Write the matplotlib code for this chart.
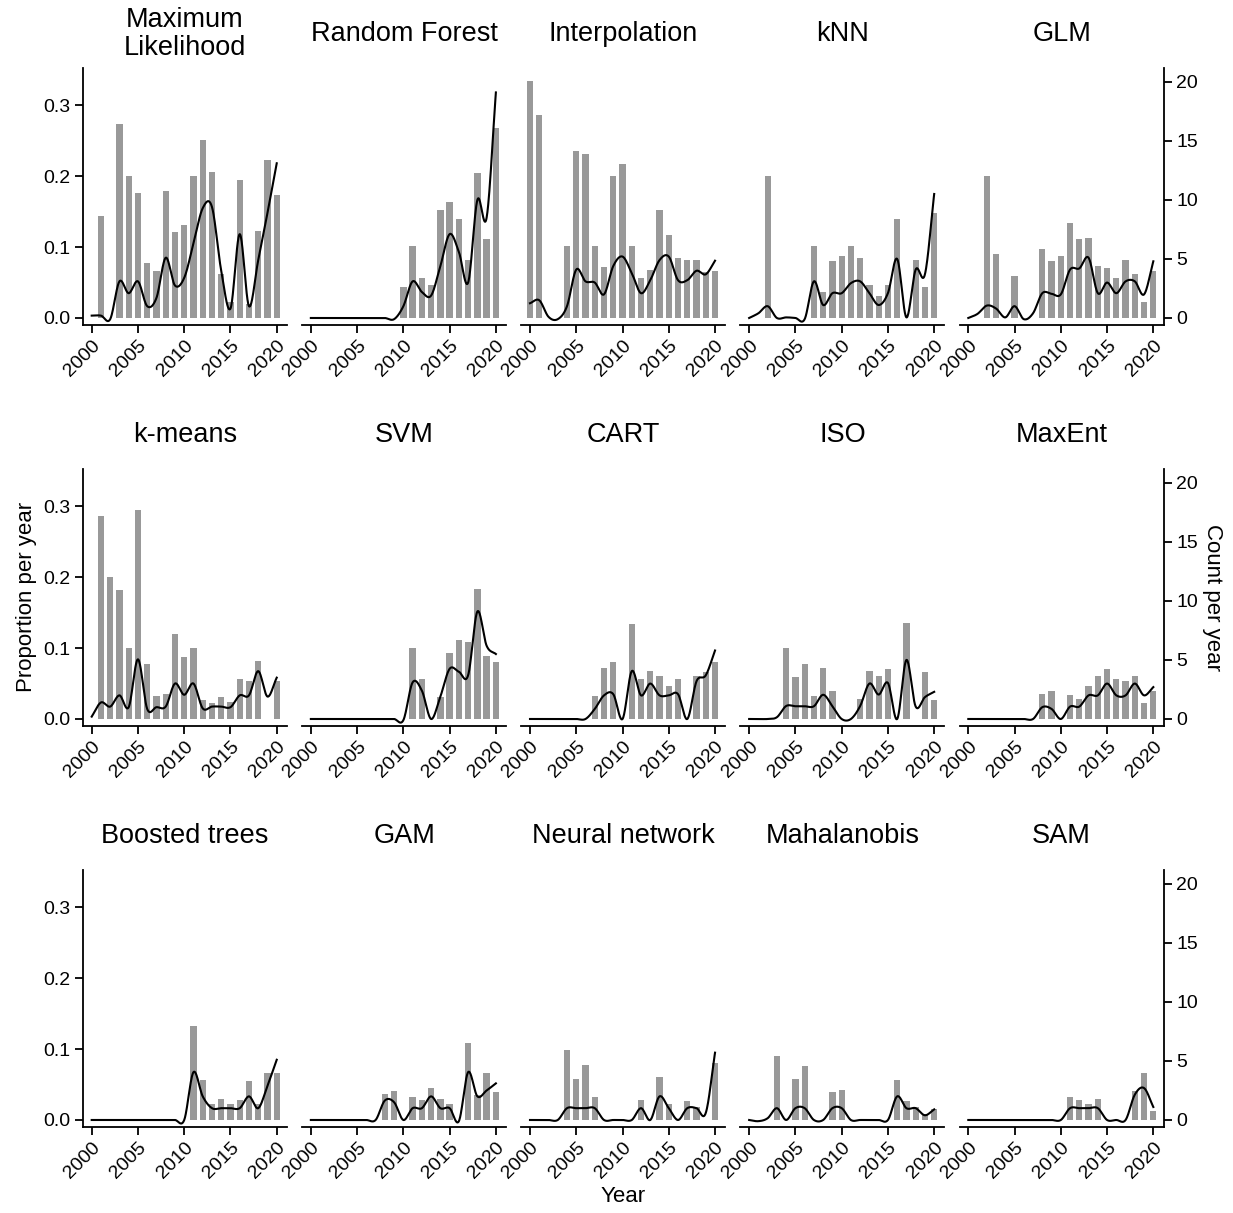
import numpy as np
import matplotlib
matplotlib.use("Agg")
import matplotlib.pyplot as plt
import matplotlib.transforms as mtransforms

plt.rcParams['font.family'] = ['Liberation Sans', 'DejaVu Sans']

years = list(range(2000, 2021))

methods = ["Maximum\nLikelihood", "Random Forest", "Interpolation", "kNN", "GLM",
           "k-means", "SVM", "CART", "ISO", "MaxEnt",
           "Boosted trees", "GAM", "Neural network", "Mahalanobis", "SAM"]

# proportion of papers per year (bars, left axis)
prop_ml = [0, 0.144, 0, 0.274, 0.200, 0.177, 0.077, 0.067, 0.179, 0.121, 0.131,
           0.201, 0.251, 0.206, 0.062, 0.022, 0.195, 0.020, 0.123, 0.223, 0.174]
prop_rf = [0, 0, 0, 0, 0, 0, 0, 0, 0, 0, 0.044,
           0.101, 0.056, 0.046, 0.152, 0.164, 0.140, 0.082, 0.205, 0.112, 0.268]
prop_interp = [0.335, 0.286, 0, 0, 0.101, 0.236, 0.231, 0.101, 0.072, 0.200, 0.218,
               0.101, 0.056, 0.068, 0.152, 0.117, 0.084, 0.082, 0.082, 0.065, 0.067]
prop_knn = [0, 0, 0.200, 0, 0, 0, 0, 0.101, 0.037, 0.081, 0.088,
            0.101, 0.084, 0.046, 0.031, 0.047, 0.139, 0, 0.082, 0.044, 0.148]
prop_glm = [0, 0, 0.200, 0.091, 0, 0.059, 0, 0, 0.098, 0.080, 0.088,
            0.134, 0.111, 0.113, 0.074, 0.070, 0.056, 0.082, 0.062, 0.023, 0.067]
prop_kmeans = [0, 0.286, 0.200, 0.182, 0.100, 0.295, 0.078, 0.033, 0.035, 0.120, 0.087,
               0.100, 0.027, 0.023, 0.031, 0.024, 0.056, 0.054, 0.082, 0, 0.054]
prop_svm = [0, 0, 0, 0, 0, 0, 0, 0, 0, 0, 0,
            0.100, 0.056, 0, 0.031, 0.093, 0.111, 0.109, 0.184, 0.089, 0.080]
prop_cart = [0, 0, 0, 0, 0, 0, 0, 0.033, 0.072, 0.080, 0,
             0.134, 0.056, 0.068, 0.060, 0.047, 0.056, 0, 0.061, 0.067, 0.080]
prop_iso = [0, 0, 0, 0, 0.100, 0.059, 0.077, 0.033, 0.072, 0.040, 0,
            0, 0.028, 0.068, 0.061, 0.070, 0, 0.135, 0, 0.067, 0.027]
prop_maxent = [0, 0, 0, 0, 0, 0, 0, 0, 0.035, 0.040, 0,
               0.034, 0.028, 0.046, 0.060, 0.070, 0.056, 0.054, 0.061, 0.023, 0.040]
prop_brt = [0, 0, 0, 0, 0, 0, 0, 0, 0, 0, 0,
            0.133, 0.056, 0.023, 0.030, 0.023, 0.028, 0.055, 0.022, 0.067, 0.067]
prop_gam = [0, 0, 0, 0, 0, 0, 0, 0, 0.036, 0.041, 0,
            0.033, 0.028, 0.045, 0.030, 0.023, 0, 0.109, 0.035, 0.067, 0.040]
prop_nn = [0, 0, 0, 0, 0.099, 0.058, 0.077, 0.033, 0, 0, 0,
           0, 0.028, 0, 0.060, 0.023, 0, 0.027, 0.019, 0, 0.080]
prop_maha = [0, 0, 0, 0.091, 0, 0.058, 0.076, 0, 0, 0.040, 0.043,
             0, 0, 0, 0, 0, 0.056, 0.027, 0.019, 0.008, 0.015]
prop_sam = [0, 0, 0, 0, 0, 0, 0, 0, 0, 0, 0,
            0.033, 0.028, 0.023, 0.030, 0, 0, 0, 0.041, 0.067, 0.012]

# smoothed count of papers per year (line, right axis)
count_ml = [0.2, 0.2, -0.1, 3.1, 2.1, 3.1, 1.0, 1.7, 5.1, 2.75, 3.4,
            6.3, 9.3, 9.4, 4.0, 0.8, 7.1, 1.0, 4.9, 8.9, 13.1]
count_rf = [0, 0, 0, 0, 0, 0, 0, 0, 0, -0.1, 1.0,
            3.1, 2.2, 1.9, 4.4, 7.1, 5.6, 3.0, 10.0, 8.5, 19.1]
count_interp = [1.25, 1.5, 0.1, -0.1, 1.0, 4.1, 3.1, 3.0, 2.0, 4.4, 5.2,
                3.8, 2.1, 3.2, 4.9, 5.2, 3.2, 3.2, 4.0, 3.7, 4.85]
count_knn = [0, 0.4, 1.0, 0, 0.05, 0, -0.1, 3.1, 1.1, 2.1, 2.1,
             2.95, 3.1, 2.1, 1.1, 2.1, 5.0, 0.05, 4.1, 3.7, 10.5]
count_glm = [0, 0.35, 1.05, 0.8, 0.05, 1.0, -0.1, 0.4, 2.1, 2.05, 2.0,
             4.1, 4.2, 5.1, 2.1, 3.0, 2.1, 3.1, 3.1, 2.0, 4.8]
count_kmeans = [0.2, 1.4, 1.05, 2.0, 1.0, 5.05, 0.85, 1.0, 1.05, 3.0, 2.05,
                3.0, 0.9, 1.05, 1.05, 1.0, 2.0, 2.0, 4.05, 1.9, 3.5]
count_svm = [0, 0, 0, 0, 0, 0, 0, 0, 0, 0, -0.1,
             3.1, 2.4, 0, 1.9, 4.25, 4.0, 3.7, 9.1, 6.2, 5.5]
count_cart = [0, 0, 0, 0, 0, 0, 0, 0.85, 2.0, 2.1, 0,
              4.05, 2.0, 3.0, 2.0, 2.0, 2.1, 0, 3.2, 3.7, 5.8]
count_iso = [0, 0, 0, 0.15, 1.1, 1.08, 1.08, 1.08, 2.05, 1.08, 0,
             0, 1.1, 3.0, 2.07, 3.05, 0, 5.0, 1.05, 1.85, 2.3]
count_maxent = [0, 0, 0, 0, 0, 0, 0, 0, 1.0, 0.85, 0,
                1.05, 1.05, 2.0, 2.0, 3.0, 2.0, 2.0, 3.0, 2.0, 2.7]
count_brt = [0, 0, 0, 0, 0, 0, 0, 0, 0, 0, 0,
             4.05, 2.0, 1.0, 1.0, 1.0, 1.0, 2.0, 1.0, 2.9, 5.1]
count_gam = [0, 0, 0, 0, 0, 0, 0, 0, 1.65, 1.5, 0,
             1.0, 1.0, 2.0, 1.0, 1.0, -0.1, 4.05, 2.0, 2.5, 3.1]
count_nn = [0, 0, 0, 0, 1.0, 1.0, 1.0, 1.0, 0, 0, 0,
            0, 1.0, 0, 2.0, 1.0, 0, 1.0, 1.0, 0.6, 5.7]
count_maha = [0, -0.1, 0.15, 1.0, 0, 1.0, 1.0, 0, 0, 1.0, 1.0,
              0, 0, 0, 0, 0, 2.0, 1.0, 1.0, 0.4, 0.9]
count_sam = [0, 0, 0, 0, 0, 0, 0, 0, 0, 0, 0,
             1.0, 1.0, 1.0, 1.0, 0, 0, 0, 2.15, 2.7, 1.1]

props = [prop_ml, prop_rf, prop_interp, prop_knn, prop_glm,
         prop_kmeans, prop_svm, prop_cart, prop_iso, prop_maxent,
         prop_brt, prop_gam, prop_nn, prop_maha, prop_sam]
counts = [count_ml, count_rf, count_interp, count_knn, count_glm,
          count_kmeans, count_svm, count_cart, count_iso, count_maxent,
          count_brt, count_gam, count_nn, count_maha, count_sam]

SCALE = 60  # count axis = proportion axis * 60


def smooth(x, y, n=24):
    # cubic hermite (catmull-rom) curve through the yearly values
    x = np.asarray(x, float)
    y = np.asarray(y, float)
    m = np.gradient(y, x)
    t = np.linspace(0, 1, n, endpoint=False)
    h00 = 2*t**3 - 3*t**2 + 1
    h10 = t**3 - 2*t**2 + t
    h01 = -2*t**3 + 3*t**2
    h11 = t**3 - t**2
    xs, ys = [], []
    for i in range(len(x) - 1):
        h = x[i+1] - x[i]
        xs.append(x[i] + t*h)
        ys.append(h00*y[i] + h10*h*m[i] + h01*y[i+1] + h11*h*m[i+1])
    xs.append([x[-1]])
    ys.append([y[-1]])
    return np.concatenate(xs), np.concatenate(ys)


W, H = 1233, 1213
fig = plt.figure(figsize=(W/100, H/100), dpi=100)

col_x = [83 + 219.15*k for k in range(5)]
row_top = [68, 469, 870]
pw, ph = 204, 257
ylim = (-0.0099, 0.3528)
xlim = (1999.06, 2021.11)
shift = mtransforms.ScaledTranslation(3/100, 0, fig.dpi_scale_trans)

for i, name in enumerate(methods):
    r, c = divmod(i, 5)
    ax = fig.add_axes([col_x[c]/W, 1 - (row_top[r] + ph)/H, pw/W, ph/H])
    ax.bar(years, props[i], width=0.68, color='#999999', linewidth=0)
    ax.set_xlim(*xlim)
    ax.set_ylim(*ylim)

    for s in ['top', 'right']:
        ax.spines[s].set_visible(False)
    ax.spines['bottom'].set_linewidth(1.3)
    ax.spines['left'].set_linewidth(1.3)
    ax.set_xticks([2000, 2005, 2010, 2015, 2020])
    ax.set_xticklabels(['2000', '2005', '2010', '2015', '2020'], rotation=45,
                       ha='right', va='top', rotation_mode='anchor')
    for lab in ax.get_xticklabels():
        lab.set_transform(lab.get_transform() + shift)
    ax.tick_params(axis='both', length=6, width=1.3, labelsize=14, pad=3)
    if c == 0:
        ax.set_yticks([0, 0.1, 0.2, 0.3])
        ax.set_yticklabels(['0.0', '0.1', '0.2', '0.3'])
    else:
        ax.spines['left'].set_visible(False)
        ax.set_yticks([])

    ax2 = ax.twinx()
    ax2.set_ylim(ylim[0]*SCALE, ylim[1]*SCALE)
    sx, sy = smooth(years, counts[i])
    ax2.plot(sx, sy, color='black', linewidth=1.5)
    for s in ['top', 'left', 'bottom']:
        ax2.spines[s].set_visible(False)
    if c == 4:
        ax2.spines['right'].set_linewidth(1.3)
        ax2.set_yticks([0, 5, 10, 15, 20])
        ax2.tick_params(axis='y', length=6, width=1.3, labelsize=14, pad=3)
    else:
        ax2.spines['right'].set_visible(False)
        ax2.set_yticks([])

    ax.text(0.5, 1 + 34/ph, name, transform=ax.transAxes, ha='center',
            va='center', fontsize=19.5, linespacing=1.12)

fig.text(27/W, 1 - 597/H, "Proportion per year", rotation=90,
         ha='center', va='center', fontsize=16)
fig.text(1212/W, 1 - 597/H, "Count per year", rotation=270,
         ha='center', va='center', fontsize=16)
fig.text(623/W, 1 - 1197/H, "Year", ha='center', va='center', fontsize=16)

fig.savefig("out.png", dpi=100, facecolor='white')
